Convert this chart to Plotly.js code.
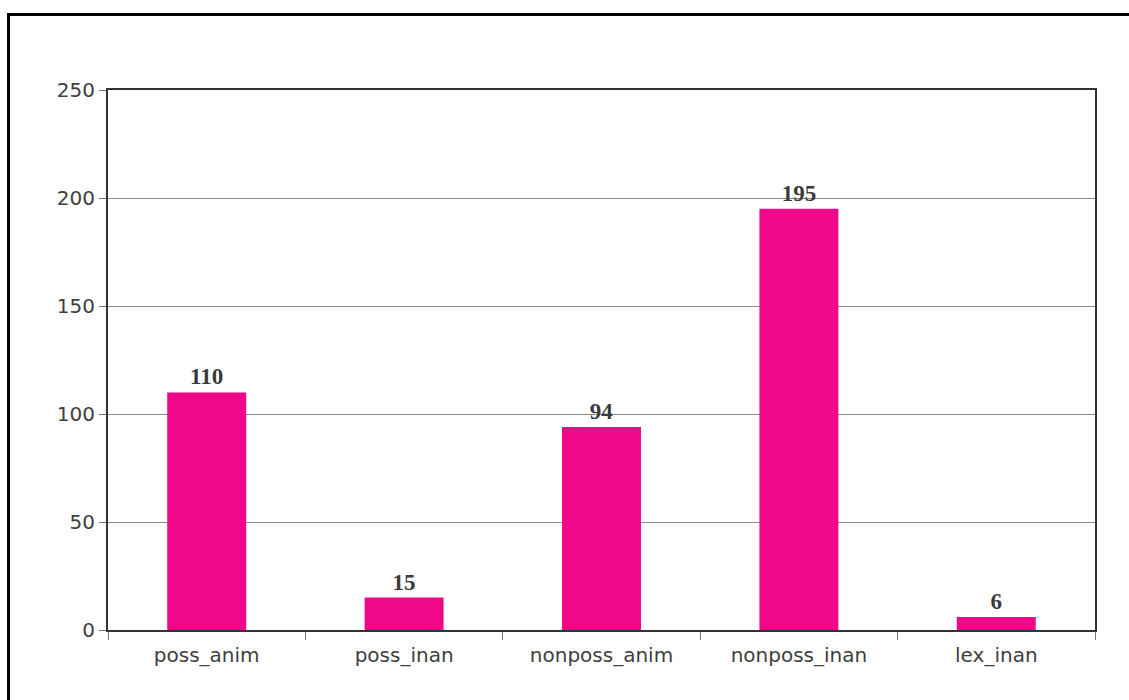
<!DOCTYPE html>
<html>
<head>
<meta charset="utf-8">
<script src="https://cdn.plot.ly/plotly-3.0.1.min.js"></script>
<style>
html,body{margin:0;padding:0;background:#fff;}
#chart{width:1129px;height:700px;}
</style>
</head>
<body>
<div id="chart"></div>
<script>
const categories = ["poss_anim", "poss_inan", "nonposs_anim", "nonposs_inan", "lex_inan"];
const counts = [110, 15, 94, 195, 6];
const yTicks = [0, 50, 100, 150, 200, 250];

const trace = {
  type: 'bar',
  x: categories,
  y: counts,
  marker: {color: '#F0078A', line: {width: 0}},
  text: counts.map(String),
  textposition: 'outside',
  cliponaxis: false,
  textfont: {family: 'Liberation Serif, serif', size: 23, color: '#3a3a3a', weight: 'bold'},
  hoverinfo: 'none'
};

const layout = {
  width: 1129, height: 700,
  margin: {l: 108, r: 34, t: 90, b: 70, pad: 0},
  paper_bgcolor: '#ffffff', plot_bgcolor: '#ffffff',
  bargap: 0.6,
  showlegend: false,
  font: {family: 'DejaVu Sans, Verdana, sans-serif', size: 20, color: '#404040'},
  xaxis: {
    type: 'category',
    showline: true, linecolor: '#333333', linewidth: 2, mirror: true,
    ticks: 'outside', tickson: 'boundaries', ticklen: 8, tickcolor: '#777777', tickwidth: 1,
    ticklabelstandoff: 6,
    showgrid: false, zeroline: false,
    tickfont: {family: 'DejaVu Sans, Verdana, sans-serif', size: 20, color: '#404040'}
  },
  yaxis: {
    range: [0, 250], tickvals: yTicks, ticktext: yTicks.map(String),
    showline: true, linecolor: '#333333', linewidth: 2, mirror: true,
    ticks: 'outside', ticklen: 7, tickcolor: '#777777', tickwidth: 1,
    showgrid: true, gridcolor: '#8a8a8a', gridwidth: 1, zeroline: false,
    tickfont: {family: 'DejaVu Sans, Verdana, sans-serif', size: 20, color: '#404040'}
  },
  shapes: [{
    type: 'rect', xref: 'paper', yref: 'paper',
    x0: (8.5 - 108) / 987, x1: (1145 - 108) / 987,
    y0: (630 - 715) / 540, y1: (630 - 14.5) / 540,
    line: {color: '#000000', width: 3}, fillcolor: 'rgba(0,0,0,0)', layer: 'above'
  }]
};

Plotly.newPlot('chart', [trace], layout, {displayModeBar: false, staticPlot: true});
</script>
</body>
</html>
